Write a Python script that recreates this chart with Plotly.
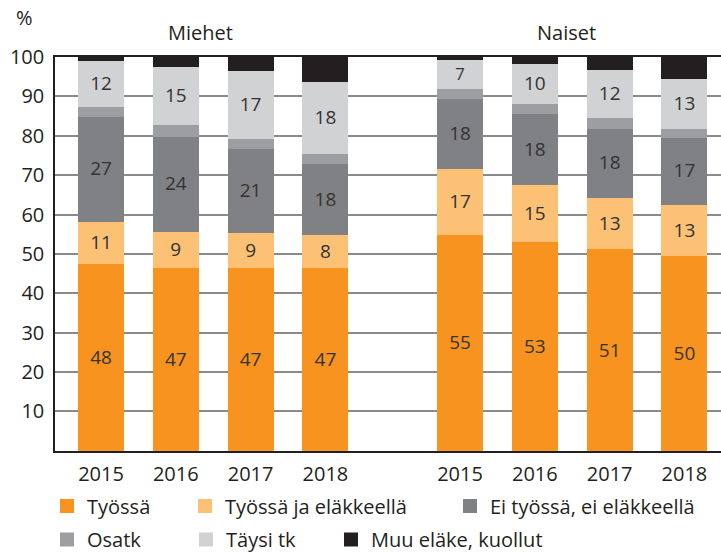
import plotly.graph_objects as go

years = ["2015", "2016", "2017", "2018"]
groups = ["Miehet", "Naiset"]

# Miehet (men) then Naiset (women), per year 2015..2018
tyossa            = [47.8, 46.6, 46.6, 46.6, 55.1, 53.2, 51.4, 49.6]
tyossa_elakkeella = [10.6, 9.3, 9.0, 8.4, 16.6, 14.6, 13.1, 13.1]
ei_tyossa         = [26.6, 24.0, 21.4, 18.1, 17.9, 17.9, 17.5, 17.0]
osatk             = [2.5, 3.0, 2.5, 2.5, 2.5, 2.6, 2.7, 2.3]
taysi_tk          = [11.7, 14.7, 17.1, 18.4, 7.3, 10.2, 12.2, 12.6]
muu_elake         = [0.8, 2.4, 3.4, 6.0, 0.6, 1.5, 3.1, 5.4]

series_names = ["Työssä", "Työssä ja eläkkeellä", "Ei työssä, ei eläkkeellä",
                "Osatk", "Täysi tk", "Muu eläke, kuollut"]
series_values = [tyossa, tyossa_elakkeella, ei_tyossa, osatk, taysi_tk, muu_elake]
series_colors = ["#F7931E", "#FDC175", "#808184", "#9D9EA1", "#D1D2D4", "#231F20"]
series_labelled = [True, True, True, False, True, False]

# one single-item legend per series so each legend entry can sit where it does in the original
legend_ids = ["legend", "legend2", "legend3", "legend4", "legend5", "legend6"]
legend_x_px = [47, 185, 450, 47, 186, 331]
legend_y_px = [506, 506, 506, 539.5, 539.5, 539.5]

FONT = "Open Sans"
TXT = "#231F20"
W, H = 721, 554

x_pos = [0, 1, 2, 3, 4.8, 5.8, 6.8, 7.8]
tick_text = years + years

fig = go.Figure()
for name, vals, color, labelled, lg in zip(series_names, series_values, series_colors,
                                           series_labelled, legend_ids):
    fig.add_trace(go.Bar(
        x=x_pos, y=vals, name=name,
        marker=dict(color=color, line=dict(width=2, color=color)),
        width=0.588,
        text=[str(int(round(v))) for v in vals] if labelled else None,
        textposition="inside" if labelled else "none",
        insidetextanchor="middle", textangle=0,
        textfont=dict(size=19, color="#333333", family=FONT),
        legend=lg, hoverinfo="name+y",
    ))

legends = {}
for lg, lx, ly in zip(legend_ids, legend_x_px, legend_y_px):
    legends[lg] = dict(orientation="h", xref="container", yref="container",
                       x=lx / W, xanchor="left", y=1 - ly / H, yanchor="middle",
                       font=dict(size=20, color=TXT, family=FONT), itemwidth=30,
                       bgcolor="rgba(0,0,0,0)", borderwidth=0)

fig.update_layout(
    barmode="stack",
    width=W, height=H,
    margin=dict(l=55, r=0, t=57, b=101),
    paper_bgcolor="white", plot_bgcolor="white",
    font=dict(family=FONT, size=20, color=TXT),
    xaxis=dict(range=[-0.615, 8.289], tickvals=x_pos, ticktext=tick_text,
               showgrid=False, zeroline=False, showline=True, mirror=True,
               linecolor="#231F20", linewidth=1.5, ticks="",
               ticklabelstandoff=4,
               tickfont=dict(size=20, color=TXT, family=FONT)),
    yaxis=dict(range=[0, 100], tickvals=[10, 20, 30, 40, 50, 60, 70, 80, 90, 100],
               showgrid=True, gridcolor="#8A8A8A", gridwidth=1.5, zeroline=False,
               showline=True, linecolor="#231F20", linewidth=1.5, ticks="",
               ticklabelstandoff=5,
               tickfont=dict(size=20, color=TXT, family=FONT)),
    showlegend=True,
    annotations=[
        dict(text="%", xref="paper", yref="paper", x=-0.0465, y=1.101,
             xanchor="center", yanchor="middle", showarrow=False,
             font=dict(size=20, color=TXT, family=FONT)),
        dict(text=groups[0], xref="x", yref="paper", x=1.33, y=1.062,
             xanchor="center", yanchor="middle", showarrow=False,
             font=dict(size=20, color=TXT, family=FONT)),
        dict(text=groups[1], xref="x", yref="paper", x=6.22, y=1.062,
             xanchor="center", yanchor="middle", showarrow=False,
             font=dict(size=20, color=TXT, family=FONT)),
    ],
    **legends,
)

fig.write_html("out.html", config={"displayModeBar": False},
               post_script="document.body.style.margin='0';")
